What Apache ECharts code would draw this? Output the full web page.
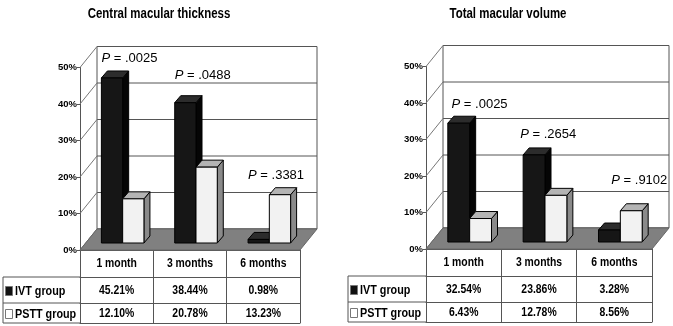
<!DOCTYPE html>
<html>
<head>
<meta charset="utf-8">
<script src="https://cdn.jsdelivr.net/npm/echarts@6/dist/echarts.min.js"></script>
<style>
  html, body { margin: 0; padding: 0; background: #fff; }
  #chart { width: 673px; height: 326px; }
</style>
</head>
<body>
<div id="chart"></div>
<script>
// two pseudo-3D bar charts with data tables (macular thickness / volume)

const months = ['1 month', '3 months', '6 months'];
const yTicks = [0, 10, 20, 30, 40, 50];
const groups = ['IVT group', 'PSTT group'];

const cmtIVT = [45.21, 38.44, 0.98];
const cmtPSTT = [12.10, 20.78, 13.23];
const cmtP = ['.0025', '.0488', '.3381'];

const tmvIVT = [32.54, 23.86, 3.28];
const tmvPSTT = [6.43, 12.78, 8.56];
const tmvP = ['.0025', '.2654', '.9102'];

// no narrow font installed -> squeeze bold sans horizontally
const FONT = "'Liberation Sans',Arial,sans-serif";
const SQUEEZE = 0.8;
const DEPTH = [6, -7];    // bar depth
const BACK = [11, -14];   // back wall vs bar plane
const FRONT = [-6, 7];    // front axis plane vs bar plane
const ROWS = [27, 26, 20];
const LINE = '#555';

const panels = [
  {
    title: 'Central macular thickness', titleX: 159,
    ivt: cmtIVT, pstt: cmtPSTT, p: cmtP,
    plot: { left: 86, right: 367, top: 60.5, bottom: 83 },
    pAt: [[-0.29, 50.7], [-0.29, 45.8], [-0.29, 18.6]],
    tableLeft: 3
  },
  {
    title: 'Total macular volume', titleX: 508,
    ivt: tmvIVT, pstt: tmvPSTT, p: tmvP,
    plot: { left: 432, right: 15, top: 59.5, bottom: 84 },
    pAt: [[-0.24, 37.8], [-0.33, 29.6], [-0.12, 17.0]],
    tableLeft: 348
  }
];

const pct = v => v.toFixed(2) + '%';

function narrowText(text, x, y, size, align, sx) {
  return {
    type: 'text', x: x, y: y, scaleX: sx || SQUEEZE,
    style: { text: text, fill: '#000', fontFamily: FONT, fontWeight: 'bold', fontSize: size,
      align: align, verticalAlign: 'middle' }
  };
}

function wallsItem(params, api) {
  const cs = params.coordSys;
  const x0 = cs.x, x1 = cs.x + cs.width, yb = cs.y + cs.height;
  const kids = [{
    type: 'rect',
    shape: { x: x0 + BACK[0], y: cs.y + BACK[1], width: cs.width, height: cs.height },
    style: { fill: '#fff', stroke: LINE, lineWidth: 1 }
  }];
  yTicks.forEach(v => {
    const y = api.coord([0, v])[1];
    kids.push({ type: 'line', shape: { x1: x0 + BACK[0], y1: y + BACK[1], x2: x1 + BACK[0], y2: y + BACK[1] },
      style: { stroke: LINE, lineWidth: 1 } });
    kids.push({ type: 'line', shape: { x1: x0 + FRONT[0], y1: y + FRONT[1], x2: x0 + BACK[0], y2: y + BACK[1] },
      style: { stroke: '#777', lineWidth: 1 } });
  });
  kids.push({
    type: 'polygon',
    shape: { points: [
      [x0 + FRONT[0], yb + FRONT[1]], [x1 + FRONT[0], yb + FRONT[1]],
      [x1 + BACK[0], yb + BACK[1]], [x0 + BACK[0], yb + BACK[1]]
    ] },
    style: { fill: '#808080', stroke: '#666', lineWidth: 1 }
  });
  return { type: 'group', children: kids };
}

function barItem(k) {
  const col = k === 0 ? ['#161616', '#2c2c2c', '#050505'] : ['#f2f2f2', '#b4b4b4', '#8a8a8a'];
  return function (params, api) {
    const i = api.value(0), v = api.value(1);
    const base = api.coord([i, 0]), top = api.coord([i, v]);
    const w = api.size([1, 0])[0] * 0.29;
    const x = base[0] - (k === 0 ? w : 0);
    const yt = top[1], yb = base[1];
    const [dx, dy] = DEPTH;
    const st = c => ({ fill: c, stroke: '#000', lineWidth: 1 });
    return {
      type: 'group',
      children: [
        { type: 'polygon', shape: { points: [[x + w, yt], [x + w + dx, yt + dy], [x + w + dx, yb + dy], [x + w, yb]] }, style: st(col[2]) },
        { type: 'polygon', shape: { points: [[x, yt], [x + dx, yt + dy], [x + w + dx, yt + dy], [x + w, yt]] }, style: st(col[1]) },
        { type: 'rect', shape: { x: x, y: yt, width: w, height: yb - yt }, style: st(col[0]) }
      ]
    };
  };
}

function pLabelItem(pv) {
  return function (params, api) {
    const i = api.value(0);
    const c = api.coord([i, api.value(1)]);
    const band = api.size([1, 0])[0];
    return {
      type: 'text',
      x: c[0] + api.value(2) * band,
      y: c[1],
      style: {
        text: '{i|P} = ' + pv[i],
        fill: '#000',
        fontFamily: FONT,
        fontSize: 13,
        align: 'left',
        verticalAlign: 'middle',
        rich: { i: { fontStyle: 'italic', fontFamily: FONT, fontSize: 13, fill: '#000' } }
      }
    };
  };
}

// table cells under each category, anchored on the front floor edge
function tableItem(pn) {
  return function (params, api) {
    const i = api.value(0);
    const c = api.coord([i, 0]);
    return {
      type: 'group',
      children: [
        narrowText(months[i], c[0], c[1] + 13.5, 13, 'center'),
        narrowText(pct(pn.ivt[i]), c[0], c[1] + ROWS[0] + 13.5, 13, 'center'),
        narrowText(pct(pn.pstt[i]), c[0], c[1] + ROWS[0] + ROWS[1] + 10.5, 13, 'center')
      ]
    };
  };
}

const grid = [], xAxis = [], yAxis = [], series = [], graphic = [];

panels.forEach((pn, n) => {
  const pl = pn.plot;
  const front = {
    left: pl.left + FRONT[0], right: pl.right - FRONT[0],
    top: pl.top + FRONT[1], bottom: pl.bottom - FRONT[1]
  };
  grid.push(pl, front);
  const g0 = grid.length - 2, g1 = grid.length - 1;

  graphic.push(narrowText(pn.title, pn.titleX, 14, 14.5, 'center', 0.79));

  // bar plane axes
  const xa0 = xAxis.length;
  xAxis.push({ gridIndex: g0, type: 'category', data: months, show: false });
  const ya0 = yAxis.length;
  yAxis.push({ gridIndex: g0, type: 'value', min: 0, max: 50, interval: 10, show: false });

  // front plane: value labels + table grid lines
  const ya1 = yAxis.length;
  yAxis.push({
    gridIndex: g1, type: 'value', min: 0, max: 50, interval: 10,
    axisLine: { show: true, lineStyle: { color: LINE } },
    axisTick: { show: true, length: 3, lineStyle: { color: LINE } },
    splitLine: { show: false },
    axisLabel: { formatter: '{value}%', margin: 3, fontFamily: FONT, fontWeight: 'bold', fontSize: 9.5, color: '#000' }
  });
  const xa1 = xAxis.length;
  let off = 0;
  ROWS.forEach(h => {
    xAxis.push({
      gridIndex: g1, type: 'category', data: months, position: 'bottom', offset: off,
      axisLine: { show: true, lineStyle: { color: LINE } },
      axisTick: { show: true, interval: 0, length: h, lineStyle: { color: LINE } },
      axisLabel: { show: false }
    });
    off += h;
  });
  xAxis.push({
    gridIndex: g1, type: 'category', data: months, position: 'bottom', offset: off,
    axisLine: { show: true, lineStyle: { color: LINE } },
    axisTick: { show: false }, axisLabel: { show: false }
  });

  series.push({
    type: 'custom', xAxisIndex: xa0, yAxisIndex: ya0, silent: true,
    data: [[0, 0]], renderItem: wallsItem
  });
  [pn.ivt, pn.pstt].forEach((vals, k) => {
    series.push({
      type: 'custom', name: groups[k], xAxisIndex: xa0, yAxisIndex: ya0,
      data: vals.map((v, i) => [i, v]), renderItem: barItem(k)
    });
  });
  series.push({
    type: 'custom', xAxisIndex: xa0, yAxisIndex: ya0, silent: true,
    data: pn.pAt.map((a, i) => [i, a[1], a[0]]), renderItem: pLabelItem(pn.p)
  });
  series.push({
    type: 'custom', xAxisIndex: xa1, yAxisIndex: ya1, silent: true, clip: false,
    data: months.map((m, i) => [i, 0]), renderItem: tableItem(pn)
  });

  // left column of the table
  const yTop = 326 - front.bottom + ROWS[0];
  const yMid = yTop + ROWS[1], yBot = yMid + ROWS[2];
  const xl = pn.tableLeft, xr = front.left;
  [yTop, yMid, yBot].forEach(y => graphic.push({
    type: 'line', shape: { x1: xl, y1: y, x2: xr, y2: y }, style: { stroke: LINE, lineWidth: 1 }
  }));
  graphic.push({ type: 'line', shape: { x1: xl, y1: yTop, x2: xl, y2: yBot }, style: { stroke: LINE, lineWidth: 1 } });
  graphic.push({ type: 'rect', shape: { x: xl + 2.5, y: yTop + 9.5, width: 7, height: 9 },
    style: { fill: '#111', stroke: '#777', lineWidth: 1 } });
  graphic.push({ type: 'rect', shape: { x: xl + 2.5, y: yMid + 6.5, width: 7, height: 9 },
    style: { fill: '#fff', stroke: '#777', lineWidth: 1 } });
  graphic.push(narrowText(groups[0], xl + 12, yTop + ROWS[1] / 2 + 1, 13.5, 'left'));
  graphic.push(narrowText(groups[1], xl + 12, yMid + ROWS[2] / 2 + 1, 13.5, 'left'));
});

const chart = echarts.init(document.getElementById('chart'));
chart.setOption({
  animation: false,
  backgroundColor: '#fff',
  grid, xAxis, yAxis, series, graphic
});
</script>
</body>
</html>
